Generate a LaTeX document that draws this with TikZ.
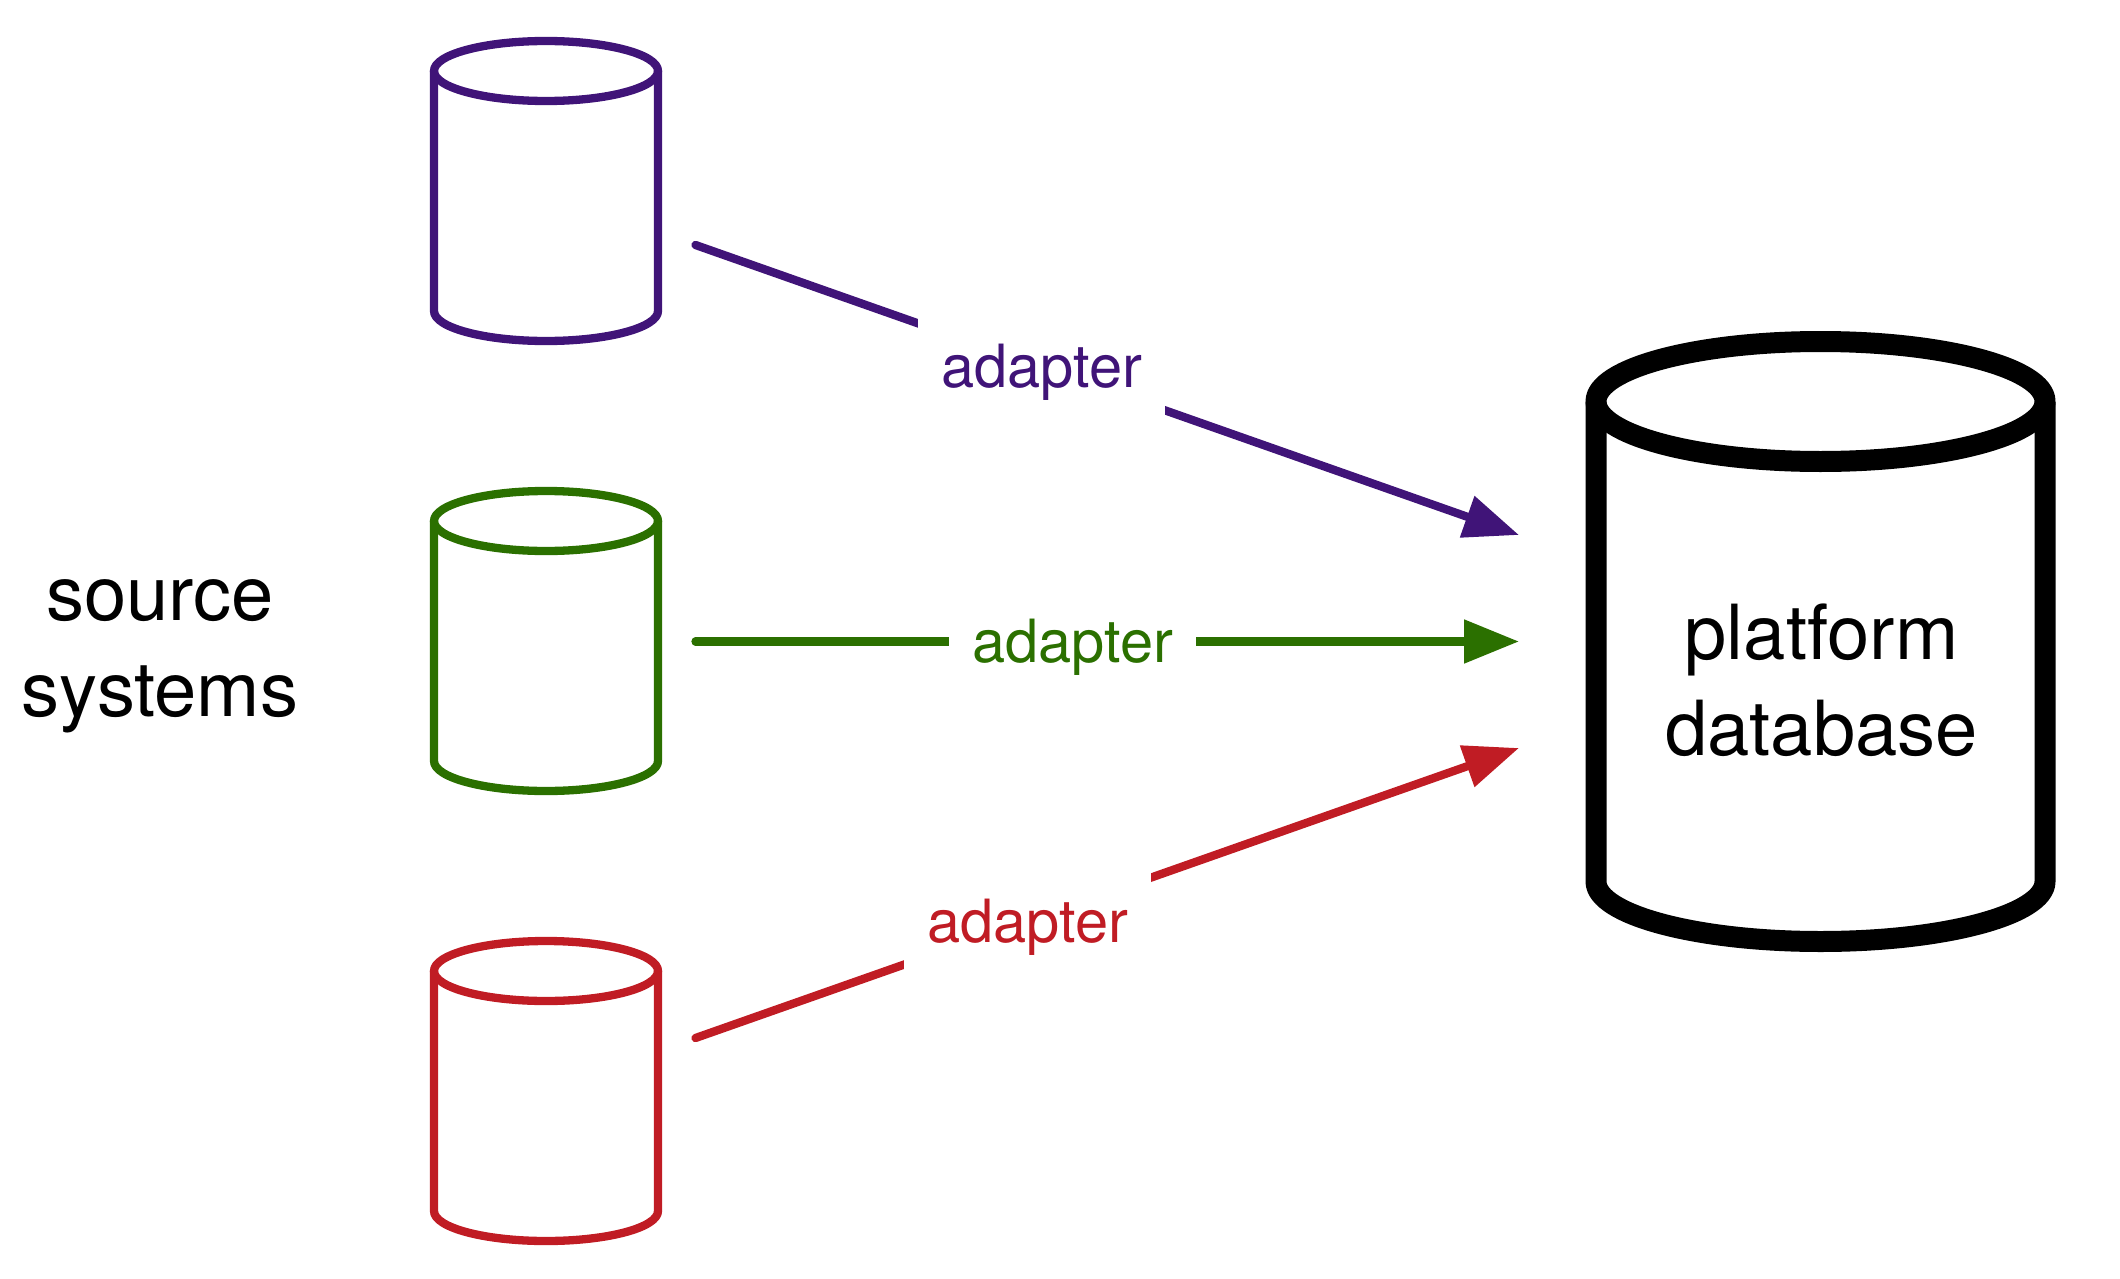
\documentclass[tikz,border=0pt]{standalone}
\usepackage{fontspec}
\setmainfont{TeX Gyre Heros}
\usepackage{xcolor}
\usetikzlibrary{arrows.meta,positioning}
\definecolor{srcpurple}{RGB}{64,20,120}
\definecolor{srcgreen}{RGB}{43,112,0}
\definecolor{srcred}{RGB}{192,28,36}
\tikzset{
    source/.style={
    rectangle,minimum width=112pt,minimum height=150pt,outer sep=0pt,inner sep=0pt
    },
    platform/.style={
    rectangle,minimum width=224.5pt,minimum height=300pt,outer sep=0pt,inner sep=0pt
    },
    thincan/.style={
    line width=4.15pt,line join=round
    },
    thickcan/.style={
    line width=10.5pt,line join=round
    },
    feed/.style={
    line width=4.15pt,line cap=round,-{Triangle[length=27.5pt,width=21pt]}
    },
    adapter/.style={
    fill=white,inner xsep=11.5pt,inner ysep=8pt,text height=27pt,text depth=6pt,
    font=\fontsize{29.8}{35}\selectfont
    },
    bigtext/.style={
    align=center,font=\fontsize{38}{48}\selectfont,text=black
    },
}
% #1 node, #2 x radius, #3 y radius
\newcommand{\drawcan}[3]{
   \path (#1.north) ++(0,#3) coordinate (#1top);
   \draw (#1top) ellipse [x radius=#2,y radius=#3];
   \draw (#1.north west) ++(0,#3) -- ([yshift=0.5*#3pt]#1.south west)
      arc [start angle=180,end angle=0,x radius=#2,y radius=#3] -- ([yshift=-0.5*#3pt]#1.north east);
}
\begin{document}
\begin{tikzpicture}[x=0.5pt,y=-0.5pt]
   \useasboundingbox (0,0) rectangle (2120,1279);
   \node[source] (sp) at (546,191) {};
   \node[source] (sg) at (546,641) {};
   \node[source] (sr) at (546,1091) {};
   \node[platform] (db) at (1820.5,641.5) {};
   \begin{scope}[thincan,srcpurple] \drawcan{sp}{112}{30} \end{scope}
   \begin{scope}[thincan,srcgreen] \drawcan{sg}{112}{30} \end{scope}
   \begin{scope}[thincan,srcred] \drawcan{sr}{112}{30} \end{scope}
   \begin{scope}[thickcan,black] \drawcan{db}{224.5}{60} \end{scope}
   \node[bigtext] (dbtext) at (1821.5,680) {platform\\database};
   \node[bigtext] (srctext) at (160,656.5) {source\\systems};

   \coordinate (op) at (695.5,245);
   \coordinate (og) at (695.5,641.5);
   \coordinate (or) at (695.5,1038);
   \coordinate (ip) at (1519,535);
   \coordinate (ig) at (1519,641.5);
   \coordinate (ir) at (1519,748);

   \draw[feed,srcpurple] (op) -- node[adapter,pos=0.4203] (ap) {adapter} (ip);
   \draw[feed,srcgreen] (og) -- node[adapter,pos=0.4583] (ag) {adapter} (ig);
   \draw[feed,srcred] (or) -- node[adapter,pos=0.4033] (ar) {adapter} (ir);
\end{tikzpicture}
\end{document}
